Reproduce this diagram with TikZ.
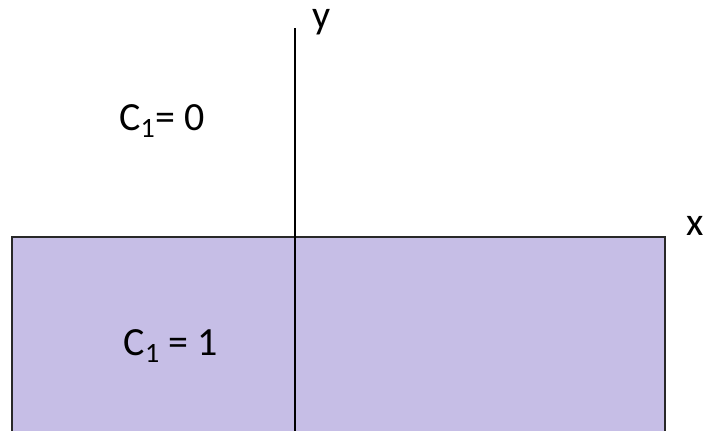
\documentclass[tikz,border=0pt]{standalone}
\usepackage{fontspec}
\setmainfont{Carlito}
\usetikzlibrary{positioning}
\definecolor{regionfill}{RGB}{198,190,230}
\definecolor{edgegray}{RGB}{40,40,40}

\begin{document}
\begin{tikzpicture}[
    x=0.75pt, y=-0.75pt,
    every node/.style={font=\fontsize{30}{34}\selectfont, inner sep=0pt},
    region/.style={fill=regionfill, draw=edgegray, line width=1.5pt},
    axis/.style={draw=black, line width=1pt}
]
\useasboundingbox (0,0) rectangle (704,430);
\clip (0,0) rectangle (704,430);

% shaded half-plane
\coordinate (topleft) at (12,237);
\coordinate (botright) at (665,445);
\draw [region] (topleft) rectangle (botright);

% y axis
\coordinate (ytop) at (295,28);
\coordinate (ybot) at (295,445);
\draw [axis] (ytop) -- (ybot);

\node (ylabel) [anchor=north] at (322,9) {y};
\node (xlabel) [anchor=east] at (704,226) {x};

\node (czero) at (162,121) {C\textsubscript{1}= 0};
\node (cone) at (171,346) {C\textsubscript{1} = 1};

\end{tikzpicture}
\end{document}
